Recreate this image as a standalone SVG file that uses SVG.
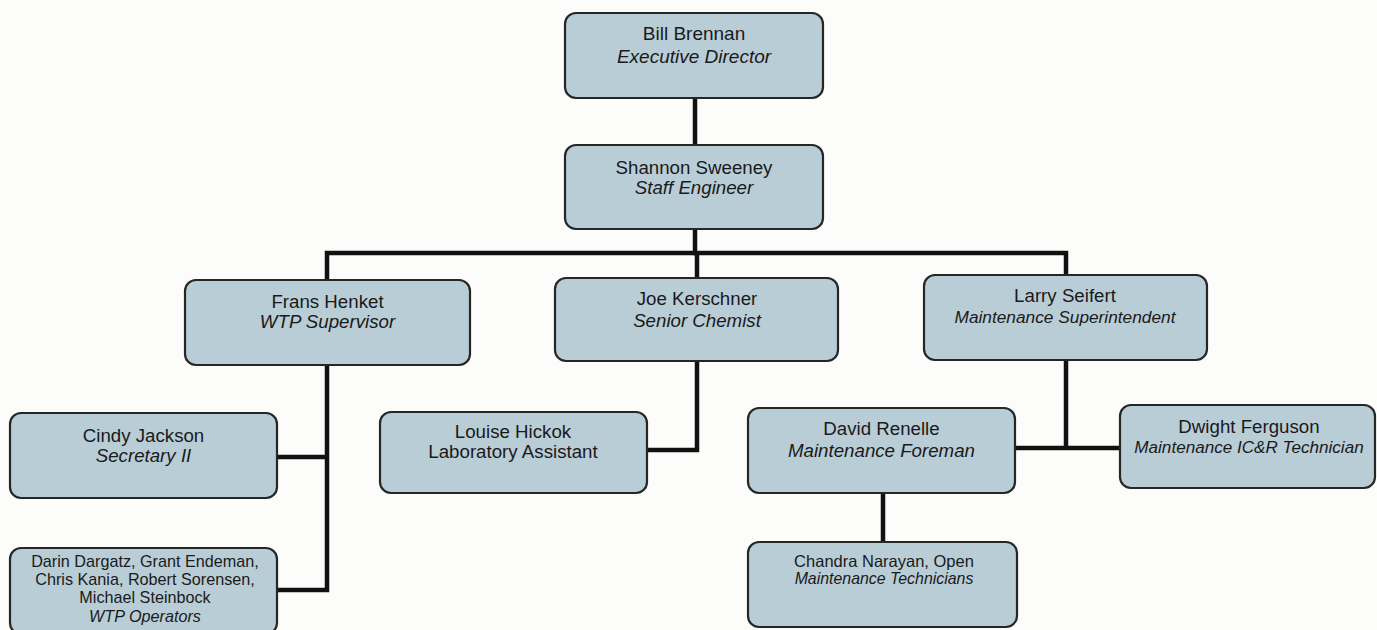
<svg xmlns="http://www.w3.org/2000/svg" width="1377" height="630" viewBox="0 0 1377 630">
<style>
.bg{fill:#fcfcfa}
.box{fill:#b9cdd7;stroke:#262626;stroke-width:2.2}
.ln{fill:none;stroke:#111;stroke-width:4.5;stroke-linejoin:miter;stroke-linecap:square}
text{font-family:"Liberation Sans",Arial,sans-serif;fill:#1a1a1a;text-anchor:middle;font-size:18.7px}
.i{font-style:italic}
.s{font-size:16.2px}
</style>
<rect class="bg" x="0" y="0" width="1377" height="630"/>
<g id="connectors">
<path class="ln" d="M695 98V145M695 229V253"/>
<path class="ln" d="M327 280V253H1066V275M697 253V278"/>
<path class="ln" d="M327 365V590H277M277 457H327"/>
<path class="ln" d="M697 361V450H647"/>
<path class="ln" d="M1066 360V448M1015 448H1120"/>
<path class="ln" d="M883 493V542"/>
</g>
<g id="bill"><rect class="box" x="565" y="13" width="258" height="85" rx="11"/>
<text x="694" y="40" style="font-size:19px">Bill Brennan</text><text class="i" x="694" y="63" style="font-size:19px">Executive Director</text></g>
<g id="shannon"><rect class="box" x="565" y="145" width="258" height="84" rx="11"/>
<text x="694" y="174">Shannon Sweeney</text><text class="i" x="694" y="194">Staff Engineer</text></g>
<g id="frans"><rect class="box" x="185" y="280" width="285" height="85" rx="11"/>
<text x="327.5" y="308">Frans Henket</text><text class="i" x="327.5" y="328">WTP Supervisor</text></g>
<g id="joe"><rect class="box" x="555" y="278" width="283" height="83" rx="11"/>
<text x="697" y="305">Joe Kerschner</text><text class="i" x="697" y="327">Senior Chemist</text></g>
<g id="larry"><rect class="box" x="924" y="275" width="283" height="85" rx="11"/>
<text x="1065" y="302">Larry Seifert</text><text class="i" x="1065" y="323" style="font-size:17.3px">Maintenance Superintendent</text></g>
<g id="cindy"><rect class="box" x="10" y="413" width="267" height="85" rx="11"/>
<text x="143.5" y="442">Cindy Jackson</text><text class="i" x="143.5" y="462">Secretary II</text></g>
<g id="louise"><rect class="box" x="380" y="412" width="267" height="81" rx="11"/>
<text x="513" y="438">Louise Hickok</text><text x="513" y="458">Laboratory Assistant</text></g>
<g id="david"><rect class="box" x="748" y="408" width="267" height="85" rx="11"/>
<text x="881.5" y="435">David Renelle</text><text class="i" x="881.5" y="457">Maintenance Foreman</text></g>
<g id="dwight"><rect class="box" x="1120" y="405" width="255" height="83" rx="11"/>
<text x="1249" y="433">Dwight Ferguson</text><text class="i" x="1249" y="453" style="font-size:17.1px">Maintenance IC&amp;R Technician</text></g>
<g id="chandra"><rect class="box" x="748" y="542" width="269" height="85" rx="11"/>
<text x="884" y="567" style="font-size:16.5px">Chandra Narayan, Open</text><text class="i" x="884" y="584" style="font-size:15.9px">Maintenance Technicians</text></g>
<g id="operators"><rect class="box" x="10" y="548" width="267" height="86" rx="11"/>
<text class="s" x="145" y="567">Darin Dargatz, Grant Endeman,</text>
<text class="s" x="145" y="585">Chris Kania, Robert Sorensen,</text>
<text class="s" x="145" y="603">Michael Steinbock</text>
<text class="s i" x="145" y="622">WTP Operators</text></g>
</svg>
